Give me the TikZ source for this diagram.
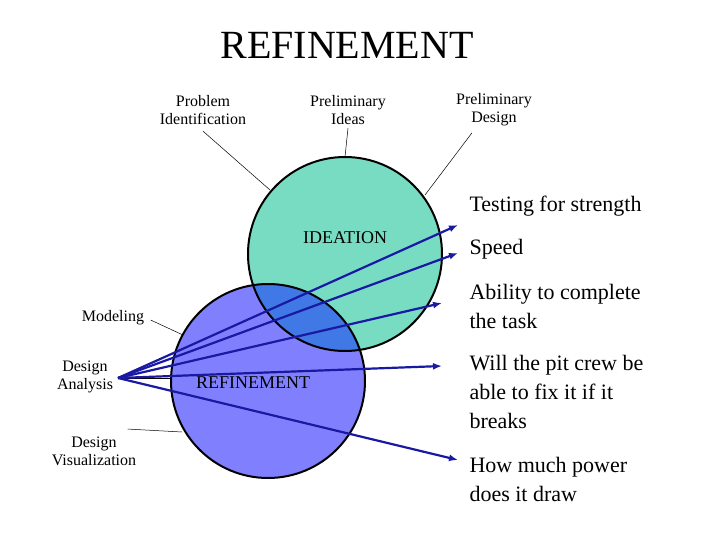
\documentclass[tikz,border=0pt]{standalone}
\usepackage{fontspec}
\setmainfont{Liberation Serif}
\begin{document}
\begin{tikzpicture}[x=1pt,y=-1pt,
  lbl/.style={align=center,font=\fontsize{16}{18}\selectfont},
  rt/.style={align=left,anchor=west,font=\fontsize{22}{29}\selectfont},
  arr/.style={draw=blue!60!black!90,line width=2.2pt,-{Latex[length=9pt,width=7pt]}},
  thin/.style={draw=black,line width=0.5pt}]
\usetikzlibrary{arrows.meta}
\useasboundingbox (0,0) rectangle (720,540);
\node[font=\fontsize{40}{44}\selectfont] (title) at (347,45) {REFINEMENT};
\node[lbl] (pi) at (203,110) {Problem\\Identification};
\node[lbl] (pri) at (348,110) {Preliminary\\Ideas};
\node[lbl] (prd) at (494,110) {Preliminary\\Design};
\node[lbl] (mod) at (113,318) {Modeling};
\node[lbl] (da) at (85,377) {Design\\Analysis};
\node[lbl] (dv) at (94,451) {Design\\Visualization};
% circles
\fill[fill={rgb,255:red,128;green,128;blue,255}] (268,381) circle (97);
\fill[fill={rgb,255:red,120;green,220;blue,195}] (345,254) circle (97);
\begin{scope}
\clip (268,381) circle (97);
\fill[fill={rgb,255:red,64;green,120;blue,230}] (345,254) circle (97);
\end{scope}
\draw[line width=2pt] (268,381) circle (97);
\draw[line width=2pt] (345,254) circle (97);
\coordinate (c1) at (268,381);
\coordinate (c2) at (345,254);
\node[font=\fontsize{18}{20}\selectfont] (ide) at (345,238) {IDEATION};
\node[font=\fontsize{18}{20}\selectfont] (ref) at (253,383) {REFINEMENT};
% label lines
\coordinate (a1) at (270,190);
\coordinate (a2) at (345,157);
\coordinate (a3) at (425,195);
\coordinate (a4) at (183,335);
\coordinate (a5) at (182,432);
\coordinate (o) at (118,378);
\coordinate (a6) at (172,378);
\draw[thin] (pi.south) ++(0,3) -- (a1);
\draw[thin] (pri.south) -- (a2);
\draw[thin] (prd.south) ++(-22,3) -- (a3);
\draw[thin] (mod.east) ++(3,2) -- (a4);
\draw[thin] (dv.north east) ++(-12,-4) -- (a5);
\draw[thin] (o) -- (a6);
% right texts
\node[rt] (t1) at (466,206) {Testing for strength};
\node[rt] (t2) at (466,249) {Speed};
\node[rt] (t3) at (466,306) {Ability to complete\\the task};
\node[rt] (t4) at (466,392) {Will the pit crew be\\able to fix it if it\\breaks};
\node[rt] (t5) at (466,479) {How much power\\does it draw};
\draw[arr] (o) -- (458,225);
\draw[arr] (o) -- (458,253);
\draw[arr] (o) -- (442,303);
\draw[arr] (o) -- (442,366);
\draw[arr] (o) -- (458,460);
\end{tikzpicture}
\end{document}
